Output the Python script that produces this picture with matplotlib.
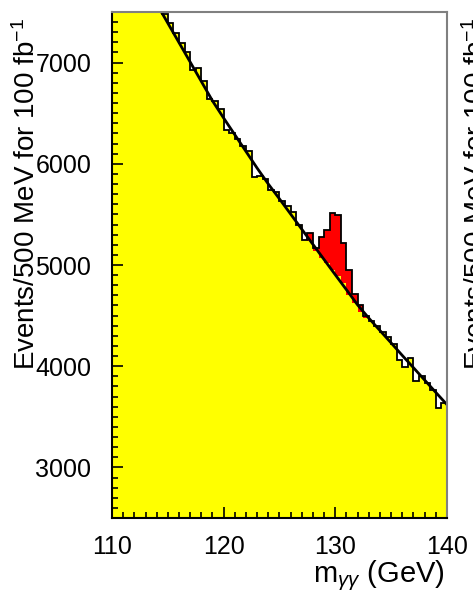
import numpy as np
import matplotlib
matplotlib.use('Agg')
import matplotlib.pyplot as plt

plt.rcParams['font.family'] = ['Liberation Sans', 'DejaVu Sans']
plt.rcParams['mathtext.fontset'] = 'custom'
plt.rcParams['mathtext.rm'] = 'Liberation Sans'
plt.rcParams['mathtext.it'] = 'Liberation Sans:italic'

# background events per 0.5 GeV bin, 110 -> 140 GeV
bkg = [8310, 8190, 8120, 8000, 7930, 7810, 7740, 7650, 7540, 7480,
       7390, 7290, 7190, 7100, 6930, 6950, 6820, 6640, 6620, 6540,
       6330, 6300, 6250, 6180, 6130, 5870, 5880, 5850, 5740, 5720,
       5630, 5580, 5520, 5400, 5250, 5240, 5140, 5070, 5020, 4950,
       4890, 4820, 4700, 4620, 4540, 4480, 4450, 4400, 4340, 4290,
       4220, 4060, 3990, 4080, 3850, 3900, 3830, 3760, 3590, 3640]
# signal stacked on top
sig = [0] * 35 + [80, 30, 210, 330, 560, 600, 400, 250, 90, 60, 20] + [0] * 14

# fitted background curve
fit_x = [110, 111, 112, 113, 114, 115, 116, 117, 118, 119, 120, 121, 122, 123,
         124, 125, 126, 127, 128, 129, 130, 131, 132, 133, 134, 135, 136, 137,
         138, 139, 140]
fit_y = [8350, 8158, 7966, 7774, 7582, 7390, 7198, 7006, 6814, 6622, 6452,
         6287, 6122, 5957, 5800, 5653, 5503, 5353, 5203, 5053, 4903, 4755,
         4605, 4475, 4352, 4230, 4106, 3985, 3863, 3741, 3620]

ylab = 'Events/500 MeV for 100 fb$^{-1}$'

edges = np.linspace(110, 140, len(bkg) + 1)
bkg = np.array(bkg)
tot = bkg + np.array(sig)

fig = plt.figure(figsize=(4.73, 5.92), dpi=100)
ax = fig.add_axes([0.2368, 0.125, 0.7082, 0.8547])

ax.stairs(bkg, edges, baseline=0, fill=True, color='#ffff00')
ax.stairs(tot, edges, baseline=bkg, fill=True, color='#ff0000')
ax.stairs(tot, edges, baseline=None, color='black', lw=1.3)
ax.plot(fit_x, fit_y, color='black', lw=2)

ax.set_xlim(110, 140)
ax.set_ylim(2500, 7500)
ax.set_xticks([110, 120, 130, 140])
ax.set_xticks(np.arange(110, 141, 1), minor=True)
ax.set_yticks([3000, 4000, 5000, 6000, 7000])
ax.set_yticks(np.arange(2500, 7501, 100), minor=True)
ax.tick_params(which='both', direction='in', top=False, right=False,
               labelsize=18, width=1.2)
ax.tick_params(which='major', length=8)
ax.tick_params(which='minor', length=4)
ax.tick_params(axis='y', pad=15)
ax.tick_params(axis='x', pad=12)

for s in ['left', 'bottom']:
    ax.spines[s].set_linewidth(1.5)
for s in ['top', 'right']:
    ax.spines[s].set_color('#808080')
    ax.spines[s].set_linewidth(1.5)

fig.text(445 / 473, 1 - 582 / 592, r'm$_{\gamma\gamma}$ (GeV)', ha='right',
         va='baseline', fontsize=21)
fig.text(13 / 473, 1 - 18 / 592, ylab, rotation=90, ha='left', va='top',
         fontsize=20)
# label of the neighbouring panel, cut by the edge
fig.text(463 / 473, 1 - 18 / 592, ylab, rotation=90, ha='left', va='top',
         fontsize=20)

fig.savefig('out.png', dpi=100)
